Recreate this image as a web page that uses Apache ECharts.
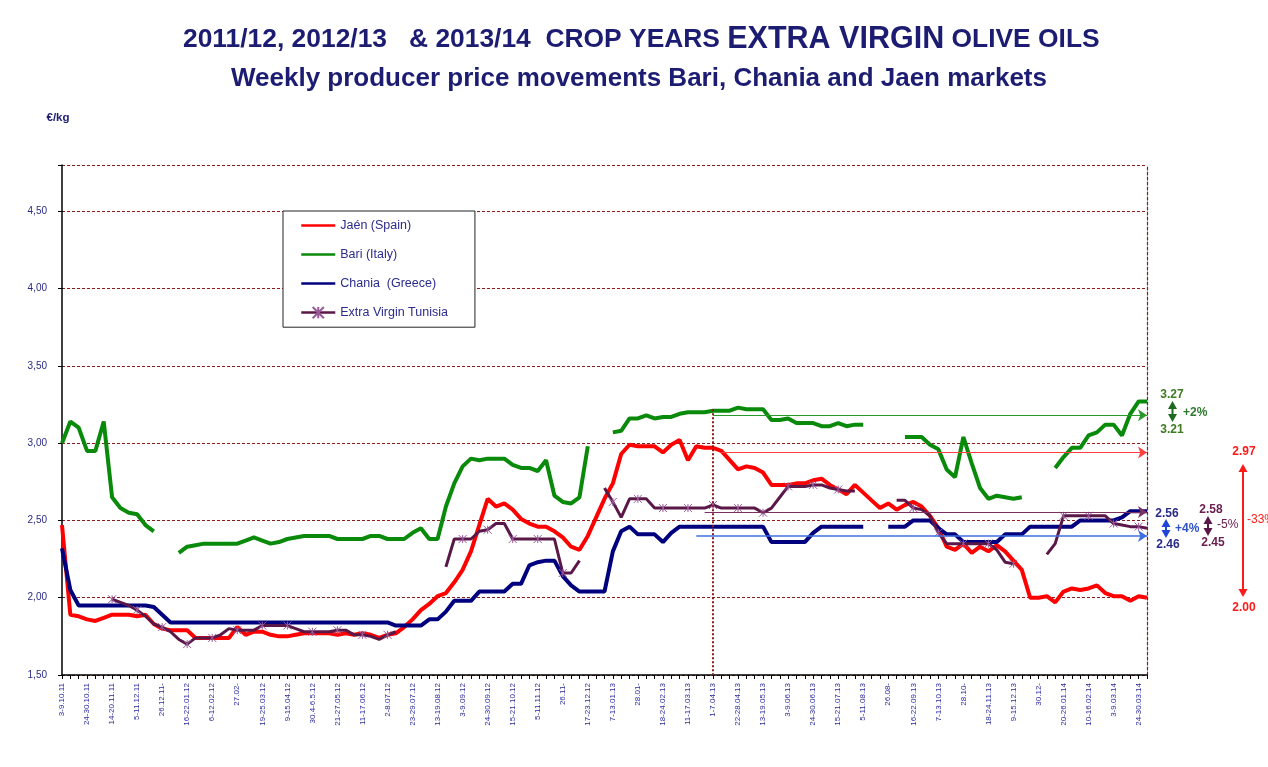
<!DOCTYPE html>
<html><head><meta charset="utf-8">
<script src="https://cdn.jsdelivr.net/npm/echarts@6/dist/echarts.min.js"></script>
<style>html,body{margin:0;padding:0;background:#fff}#c{width:1268px;height:767px}</style>
</head><body><div id="c"></div>
<script>
// Tick labels (one every 3 weeks, from week 3-9.10.11 to 24-30.03.14)
const tickLabels = ['3-9.10.11','24-30.10.11','14-20.11.11','5-11.12.11','26.12.11-','16-22.01.12','6-12.02.12','27.02-','19-25.03.12','9-15.04.12','30.4-6.5.12','21-27.05.12','11-17.06.12','2-8.07.12','23-29.07.12','13-19.08.12','3-9.09.12','24-30.09.12','15-21.10.12','5-11.11.12','26.11-','17-23.12.12','7-13.01.13','28.01-','18-24.02.13','11-17.03.13','1-7.04.13','22-28.04.13','13-19.05.13','3-9.06.13','24-30.06.13','15-21.07.13','5-11.08.13','26.08-','16-22.09.13','7-13.10.13','28.10-','18-24.11.13','9-15.12.13','30.12-','20-26.01.14','10-16.02.14','3-9.03.14','24-30.03.14'];

const jaen = [
2.47,1.89,1.88,1.86,1.85,1.87,1.89,1.89,1.89,1.88,
1.89,1.83,1.80,1.79,1.79,1.79,1.74,1.74,1.74,1.74,
1.74,1.81,1.76,1.78,1.78,1.76,1.75,1.75,1.76,1.77,
1.77,1.77,1.77,1.76,1.77,1.76,1.77,1.76,1.74,1.76,
1.77,1.81,1.86,1.92,1.96,2.01,2.03,2.10,2.18,2.30,
2.47,2.64,2.59,2.61,2.57,2.51,2.48,2.46,2.46,2.43,
2.39,2.33,2.31,2.40,2.52,2.64,2.74,2.93,2.99,2.98,
2.98,2.98,2.94,2.99,3.02,2.89,2.98,2.97,2.97,2.95,
2.89,2.83,2.85,2.84,2.81,2.73,2.73,2.73,2.74,2.74,
2.76,2.77,2.73,2.70,2.67,2.73,2.68,2.63,2.58,2.61,
2.57,2.60,2.62,2.59,2.53,2.45,2.33,2.31,2.35,2.29,
2.33,2.30,2.34,2.30,2.24,2.18,2.00,2.00,2.01,1.97,
2.04,2.06,2.05,2.06,2.08,2.03,2.01,2.01,1.98,2.01,
2.00];

const bari = [
3.00,3.14,3.10,2.95,2.95,3.14,2.65,2.58,2.55,2.54,
2.47,2.43,null,null,2.29,2.33,2.34,2.35,2.35,2.35,
2.35,2.35,2.37,2.39,2.37,2.35,2.36,2.38,2.39,2.40,
2.40,2.40,2.40,2.38,2.38,2.38,2.38,2.40,2.40,2.38,
2.38,2.38,2.42,2.45,2.38,2.38,2.59,2.74,2.85,2.90,
2.89,2.90,2.90,2.90,2.86,2.84,2.84,2.82,2.89,2.66,
2.62,2.61,2.65,2.98,null,null,3.07,3.08,3.16,3.16,
3.18,3.16,3.17,3.17,3.19,3.20,3.20,3.20,3.21,3.21,
3.21,3.23,3.22,3.22,3.22,3.15,3.15,3.16,3.13,3.13,
3.13,3.11,3.11,3.13,3.11,3.12,3.12,null,null,null,
null,3.04,3.04,3.04,2.99,2.96,2.83,2.78,3.04,2.87,
2.71,2.64,2.66,2.65,2.64,2.65,null,null,null,2.84,
2.91,2.97,2.97,3.05,3.07,3.12,3.12,3.05,3.19,3.27,
3.27];

const chania = [
2.32,2.05,1.95,1.95,1.95,1.95,1.95,1.95,1.95,1.95,
1.95,1.94,1.89,1.84,1.84,1.84,1.84,1.84,1.84,1.84,
1.84,1.84,1.84,1.84,1.84,1.84,1.84,1.84,1.84,1.84,
1.84,1.84,1.84,1.84,1.84,1.84,1.84,1.84,1.84,1.84,
1.82,1.82,1.82,1.82,1.86,1.86,1.91,1.98,1.98,1.98,
2.04,2.04,2.04,2.04,2.09,2.09,2.21,2.23,2.24,2.24,
2.14,2.08,2.04,2.04,2.04,2.04,2.30,2.43,2.46,2.41,
2.41,2.41,2.36,2.42,2.46,2.46,2.46,2.46,2.46,2.46,
2.46,2.46,2.46,2.46,2.46,2.36,2.36,2.36,2.36,2.36,
2.42,2.46,2.46,2.46,2.46,2.46,2.46,null,null,2.46,
2.46,2.46,2.50,2.50,2.50,2.45,2.41,2.41,2.36,2.36,
2.36,2.36,2.36,2.41,2.41,2.41,2.46,2.46,2.46,2.46,
2.46,2.46,2.50,2.50,2.50,2.50,2.50,2.52,2.56,2.56,
2.56];

const tunisia = [
null,null,null,null,null,null,1.99,1.97,1.95,1.92,
1.88,1.83,1.81,1.78,1.73,1.70,1.74,1.74,1.74,1.76,
1.80,1.79,1.79,1.79,1.82,1.82,1.82,1.82,1.80,1.78,
1.78,1.78,1.78,1.79,1.79,1.76,1.76,1.75,1.73,1.76,
1.78,null,null,1.92,null,null,2.20,2.38,2.38,2.38,
2.43,2.44,2.48,2.48,2.38,2.38,2.38,2.38,2.38,2.38,
2.16,2.16,2.24,null,null,2.71,2.62,2.52,2.64,2.64,
2.64,2.58,2.58,2.58,2.58,2.58,2.58,2.58,2.60,2.58,
2.58,2.58,2.58,2.58,2.55,2.58,2.65,2.72,2.72,2.72,
2.73,2.73,2.71,2.70,2.69,2.69,null,null,null,null,
2.63,2.63,2.58,2.57,2.53,2.42,2.35,2.35,2.35,2.35,
2.35,2.35,2.31,2.23,2.22,null,null,null,2.28,2.35,
2.53,2.53,2.53,2.53,2.53,2.53,2.48,2.47,2.46,2.46,
2.45];

// reference week (1-7.04.13) and comparison levels
const refWeek = 78;
const refLevels = {bari: 3.18, jaen: 2.94, tunisia: 2.555, chania: 2.40};

const categories = jaen.map((_, i) => (i % 3 === 0 && tickLabels[i / 3]) ? tickLabels[i / 3] : '');
const last = jaen.length - 1;

const FONT = 'Liberation Sans, Arial, sans-serif';
const NAVY = '#1c1c72';
const LINE_ICON = 'path://M0,0h34v2.6h-34z';

const chart = echarts.init(document.getElementById('c'), null, {renderer: 'canvas'});

function refLine(val, startIdx, color, width) {
  return {
    silent: true, symbol: ['none', 'arrow'], symbolSize: 9,
    label: {show: false},
    lineStyle: {color: color, width: width, type: 'solid'},
    data: [[{coord: [startIdx, val]}, {coord: [last, val]}]]
  };
}

function txt(x, y, text, color, bold, align) {
  return {type: 'text', x: x, y: y, z: 100,
    style: {text: text, fill: color, font: (bold ? 'bold ' : '') + '12px ' + FONT,
      align: align || 'center', verticalAlign: 'middle'}};
}
function vArrow(x, y1, y2, color) {
  return [
    {type: 'line', z: 100, shape: {x1: x, y1: y1 + 5, x2: x, y2: y2 - 5}, style: {stroke: color, lineWidth: 2}},
    {type: 'polygon', z: 100, shape: {points: [[x, y1], [x - 4.5, y1 + 8], [x + 4.5, y1 + 8]]}, style: {fill: color}},
    {type: 'polygon', z: 100, shape: {points: [[x, y2], [x - 4.5, y2 - 8], [x + 4.5, y2 - 8]]}, style: {fill: color}}
  ];
}

const graphics = [].concat(
  [txt(1172, 395, '3.27', '#3d7a20', true), txt(1172, 430, '3.21', '#3d7a20', true), txt(1183, 413, '+2%', '#2f7a2f', true, 'left')],
  vArrow(1172.5, 401, 422, '#1f6a1f'),
  [txt(1244, 452, '2.97', '#ff1a1a', true), txt(1244, 608, '2.00', '#ff1a1a', true), txt(1247, 520, '-33%', '#ff1a1a', false, 'left')],
  vArrow(1243, 464, 597, '#ff1a1a'),
  [txt(1167, 514, '2.56', '#2a2a88', true), txt(1168, 545, '2.46', '#2a2a88', true), txt(1175, 529, '+4%', '#3050c8', true, 'left')],
  vArrow(1166, 519, 538, '#1f46d8'),
  [txt(1211, 510, '2.58', '#6a2050', true), txt(1213, 543, '2.45', '#6a2050', true), txt(1217, 525, '-5%', '#6a2050', false, 'left')],
  vArrow(1208, 516, 536, '#5a1848')
);

const option = {
  backgroundColor: '#ffffff',
  animation: false,
  title: [
    {text: '{a|2011/12, 2012/13   & 2013/14  CROP YEARS }{b|EXTRA VIRGIN}{a| OLIVE OILS}',
     left: 183, top: 24, padding: 0,
     textStyle: {rich: {
       a: {fontSize: 26.4, fontWeight: 'bold', color: NAVY, fontFamily: FONT},
       b: {fontSize: 30.5, fontWeight: 'bold', color: NAVY, fontFamily: FONT}}}},
    {text: 'Weekly producer price movements Bari, Chania and Jaen markets',
     left: 231, top: 66, padding: 0,
     textStyle: {fontSize: 26, fontWeight: 'bold', color: NAVY, fontFamily: FONT}}
  ],
  legend: {
    orient: 'vertical', left: 283, top: 211,
    itemGap: 16, itemWidth: 34, itemHeight: 14,
    padding: [8, 27, 8, 17],
    backgroundColor: '#ffffff', borderColor: '#222', borderWidth: 1, borderRadius: 0,
    textStyle: {fontSize: 12.5, color: '#2b2b8c', fontFamily: FONT},
    lineStyle: {width: 2.5},
    data: [
      {name: 'Jaén (Spain)', icon: LINE_ICON},
      {name: 'Bari (Italy)', icon: LINE_ICON},
      {name: 'Chania  (Greece)', icon: LINE_ICON},
      {name: 'Extra Virgin Tunisia'}
    ]
  },
  grid: {left: 62, right: 121, top: 165, bottom: 92, containLabel: false},
  xAxis: {
    type: 'category', data: categories, boundaryGap: false,
    axisLine: {lineStyle: {color: '#000', width: 1.5}},
    axisTick: {show: true, interval: 0, length: 4, lineStyle: {color: '#000'}},
    axisLabel: {interval: 2, rotate: 90, fontSize: 8, color: '#2a2aa0', margin: 8, fontFamily: FONT},
    splitLine: {show: false}
  },
  yAxis: [{
    type: 'value', min: 1.5, max: 4.8, interval: 0.5,
    name: '€/kg', nameLocation: 'end', nameGap: 41,
    nameTextStyle: {fontWeight: 'bold', fontSize: 11.5, color: NAVY, fontFamily: FONT, align: 'center', padding: [0, 8, 0, 0]},
    axisLine: {show: true, lineStyle: {color: '#000', width: 1.5}},
    axisTick: {show: true, length: 4, lineStyle: {color: '#000'}},
    axisLabel: {fontSize: 10, color: '#2a2a88', margin: 15, fontFamily: FONT,
      formatter: v => v > 4.51 ? '' : v.toFixed(2).replace('.', ',')},
    splitLine: {show: true, lineStyle: {color: '#8b1a1a', width: 1, type: [3, 2]}}
  }, {
    type: 'value', min: 1.5, max: 4.8, interval: 0.5, position: 'right',
    axisLine: {show: true, lineStyle: {color: '#8b1a1a', width: 1.2, type: [3, 2]}},
    axisTick: {show: false}, axisLabel: {show: false}, splitLine: {show: false}
  }],
  series: [
    {name: 'Jaén (Spain)', type: 'line', data: jaen, symbol: 'none', color: '#ff0000',
     lineStyle: {width: 4, color: '#ff0000'}, z: 3,
     markLine: {
       silent: true, symbol: ['none', 'none'], label: {show: false},
       lineStyle: {color: '#8b1a1a', type: 'dotted', width: 2},
       data: [[{coord: [refWeek, 3.22]}, {coord: [refWeek, 1.5]}]]
     }},
    {name: 'Bari (Italy)', type: 'line', data: bari, symbol: 'none', color: '#0a8a0a',
     lineStyle: {width: 4, color: '#0a8a0a'}, z: 3,
     markLine: refLine(refLevels.bari, refWeek, '#2a9a2a', 1.2)},
    {name: 'Chania  (Greece)', type: 'line', data: chania, symbol: 'none', color: '#00007f',
     lineStyle: {width: 4, color: '#00007f'}, z: 3,
     markLine: refLine(refLevels.chania, 76, '#3f6fe0', 1.5)},
    {name: 'Extra Virgin Tunisia', type: 'line', data: tunisia, color: '#5a1848',
     symbol: 'path://M0,0L10,10M10,0L0,10M5,0L5,10', symbolSize: 8, showSymbol: true,
     itemStyle: {color: '#9a5a9a', borderColor: '#9a5a9a', borderWidth: 1},
     lineStyle: {width: 3, color: '#5a1848'}, z: 4,
     markLine: refLine(refLevels.tunisia, 77, '#7a3060', 1.2)},
    {name: 'refJaen', type: 'line', data: [], markLine: refLine(refLevels.jaen, 79, '#ff4040', 1.2)}
  ],
  graphic: graphics
};
chart.setOption(option);
</script>
</body></html>
